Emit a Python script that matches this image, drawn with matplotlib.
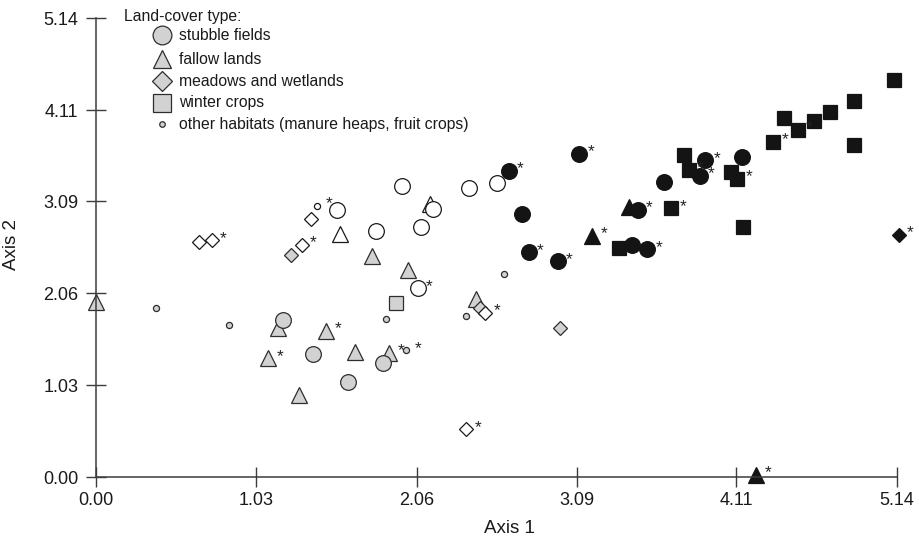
import matplotlib
matplotlib.use('Agg')
import matplotlib.pyplot as plt

plt.rcParams['font.family'] = ['Liberation Sans', 'DejaVu Sans']

# sample scores on the two ordination axes
# shade: g = grey, w = white, b = black ; star = 1 where the sample is flagged with *
stubble_x = [1.199, 1.392, 1.841, 1.620,
             1.550, 1.796, 1.963, 2.166, 2.087, 2.396, 2.577, 2.064,
             2.648, 2.734, 2.777, 2.963, 3.102, 3.477, 3.441, 3.537, 3.643, 3.911, 3.875, 4.147]
stubble_y = [1.763, 1.382, 1.278, 1.072,
             2.997, 2.753, 3.258, 3.008, 2.803, 3.240, 3.296, 2.117,
             3.434, 2.948, 2.522, 2.417, 3.624, 2.997, 2.596, 2.556, 3.303, 3.549, 3.378, 3.583]
stubble_shade = list('gggg') + list('wwwwwwww') + list('bbbbbbbbbbbb')
stubble_star = [0, 0, 0, 0,
                0, 0, 0, 0, 0, 0, 0, 1,
                1, 0, 1, 1, 1, 1, 0, 1, 0, 1, 1, 0]

fallow_x = [0.0, 1.167, 1.477, 1.103, 1.663, 1.882, 1.304, 1.771, 2.006, 2.441,
            1.567, 2.145,
            3.419, 3.187, 4.237]
fallow_y = [1.963, 1.670, 1.643, 1.334, 1.408, 1.397, 0.923, 2.481, 2.316, 1.999,
            2.728, 3.061,
            3.027, 2.705, 0.03]
fallow_shade = list('gggggggggg') + list('ww') + list('bbb')
fallow_star = [0, 0, 1, 1, 0, 1, 0, 0, 0, 0,
               0, 0,
               0, 1, 1]

meadow_x = [1.250, 2.466, 2.980,
            0.663, 0.743, 1.321, 1.379, 2.498, 2.374,
            5.153]
meadow_y = [2.484, 1.895, 1.677,
            2.634, 2.652, 2.604, 2.892, 1.845, 0.541,
            2.716]
meadow_shade = list('ggg') + list('wwwwww') + list('b')
meadow_star = [0, 0, 0,
               0, 1, 1, 0, 1, 1,
               1]

winter_x = [1.925,
            3.355, 3.693, 3.772, 3.804, 4.076, 4.115, 4.153, 4.348, 4.414,
            4.504, 4.611, 4.714, 4.868, 4.868, 5.125]
winter_y = [1.957,
            2.567, 3.016, 3.605, 3.445, 3.419, 3.344, 2.798, 3.759, 4.025,
            3.893, 3.987, 4.092, 4.211, 3.725, 4.446]
winter_shade = list('g') + list('bbbbbbbbbbbbbbb')
winter_star = [0,
               0, 1, 0, 1, 0, 1, 0, 1, 0,
               1, 0, 0, 0, 0, 0]

other_x = [0.383, 0.856, 1.862, 2.376, 2.620, 1.989, 1.418]
other_y = [1.895, 1.707, 1.775, 1.808, 2.276, 1.427, 3.041]
other_shade = list('gggggg') + list('w')
other_star = [0, 0, 0, 0, 0, 1, 1]

axis_ticks = [0.00, 1.03, 2.06, 3.09, 4.11, 5.14]
legend_labels = ['stubble fields', 'fallow lands', 'meadows and wetlands',
                 'winter crops', 'other habitats (manure heaps, fruit crops)']

FILL = {'g': '#d2d2d2', 'w': 'white', 'b': '#141414'}
EDGE = {'g': '#2e2e2e', 'w': '#1a1a1a', 'b': '#141414'}
AXC = '#3c3c3c'

W, H = 919, 538
fig = plt.figure(figsize=(W / 100, H / 100), dpi=100)
ax = fig.add_axes([96 / W, 1 - 477.3 / H, (896.7 - 96) / W, (477.3 - 18.3) / H])


def draw(xs, ys, shades, stars, marker, size):
    for x, y, sh, st in zip(xs, ys, shades, stars):
        ax.plot(x, y, marker=marker, ms=size, mfc=FILL[sh], mec=EDGE[sh],
                mew=0.9, ls='none', clip_on=False)
        if st:
            ax.annotate('*', (x, y), xytext=(8.5, -2), textcoords='offset points',
                        ha='center', va='baseline', fontsize=12.5, color='#222222',
                        annotation_clip=False)


draw(fallow_x, fallow_y, fallow_shade, fallow_star, '^', 11.3)
draw(meadow_x, meadow_y, meadow_shade, meadow_star, 'D', 7.3)
draw(winter_x, winter_y, winter_shade, winter_star, 's', 10.3)
draw(stubble_x, stubble_y, stubble_shade, stubble_star, 'o', 11.3)
draw(other_x, other_y, other_shade, other_star, 'o', 4.4)

ax.set_xlim(0, 5.14)
ax.set_ylim(0, 5.14)
ax.set_xticks(axis_ticks)
ax.set_yticks(axis_ticks)
ax.set_xticklabels([f'{t:.2f}' for t in axis_ticks])
ax.set_yticklabels([f'{t:.2f}' for t in axis_ticks])
ax.tick_params(axis='both', direction='inout', length=14.5, width=1, color=AXC,
               labelsize=13, labelcolor='#1a1a1a')
ax.tick_params(axis='y', pad=5.5)
ax.tick_params(axis='x', pad=3)
for side in ['top', 'right']:
    ax.spines[side].set_visible(False)
for side in ['left', 'bottom']:
    ax.spines[side].set_color(AXC)
    ax.spines[side].set_linewidth(1.1)

ax.set_xlabel('Axis 1', fontsize=13.5, color='#1a1a1a')
ax.set_ylabel('Axis 2', fontsize=13.5, color='#1a1a1a')
ax.xaxis.set_label_coords(0.516, -0.093)
ax.yaxis.set_label_coords(-0.095, 0.508)

# legend, laid out in figure pixels
fig.text(124 / W, 1 - 16 / H, 'Land-cover type:', fontsize=11.3, ha='left', va='center',
         color='#1a1a1a')
leg_markers = [('o', 13.5), ('^', 13.5), ('D', 10), ('s', 12.5), ('o', 4)]
leg_rows = [35, 59, 81, 103, 124]
for (m, s), lab, py in zip(leg_markers, legend_labels, leg_rows):
    fig.lines.append(plt.Line2D([162 / W], [1 - py / H], marker=m, ms=s, mfc=FILL['g'],
                                mec=EDGE['g'], mew=0.9, ls='none',
                                transform=fig.transFigure))
    fig.text(179 / W, 1 - py / H, lab, fontsize=11.3, ha='left', va='center',
             color='#1a1a1a')

fig.savefig('out.png', dpi=100)
